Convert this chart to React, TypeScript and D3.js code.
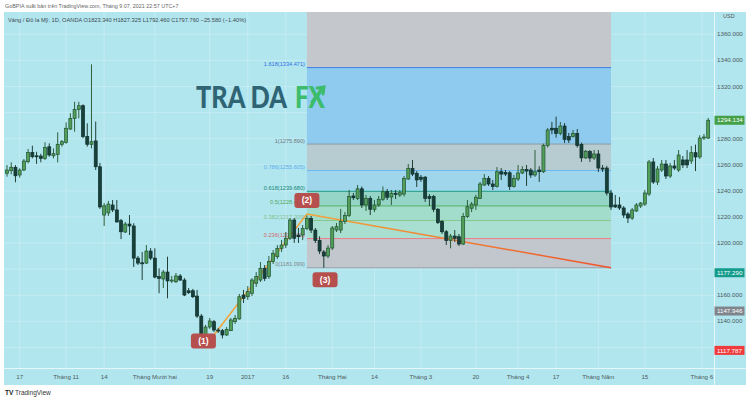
import React from "react";
import * as d3 from "d3";

// Daily XAU/USD candles (Oct 2016 – Jun 2017)
const opens = [1253.5,1255.5,1258.1,1252.2,1256.0,1262.4,1269.5,1266.9,1266.7,1264.9,1273.8,1266.9,1268.0,1275.7,1277.2,1287.4,1295.6,1302.5,1305.3,1281.6,1275.7,1278.3,1258.5,1221.5,1223.1,1229.2,1225.4,1217.2,1208.5,1214.6,1213.1,1188.5,1184.9,1184.7,1193.9,1188.5,1174.3,1172.5,1177.8,1171.0,1170.4,1174.8,1171.7,1163.5,1163.5,1159.4,1144.1,1129.6,1135.7,1139.8,1133.4,1132.9,1129.6,1132.9,1139.8,1141.9,1160.2,1158.9,1161.5,1169.2,1171.7,1180.7,1174.3,1185.8,1189.6,1196.0,1198.5,1203.7,1217.7,1206.2,1206.2,1211.3,1219.0,1210.0,1202.1,1193.2,1190.1,1196.2,1210.0,1210.0,1216.5,1221.1,1236.1,1234.3,1241.6,1229.2,1234.3,1225.9,1229.2,1233.6,1239.4,1235.3,1238.2,1236.9,1237.6,1249.1,1257.3,1253.5,1250.5,1250.5,1235.6,1235.6,1225.9,1216.5,1208.7,1202.0,1205.4,1204.9,1199.3,1220.3,1226.7,1229.2,1234.3,1244.5,1249.6,1245.3,1243.3,1254.7,1254.2,1253.9,1243.3,1249.1,1253.7,1256.3,1256.0,1252.2,1256.0,1254.7,1274.7,1288.0,1288.0,1284.1,1289.7,1281.6,1281.6,1284.1,1275.5,1265.3,1270.1,1265.2,1268.3,1257.5,1257.5,1238.4,1229.2,1229.2,1226.9,1222.3,1219.2,1224.6,1228.4,1229.9,1237.6,1262.2,1246.8,1256.0,1260.6,1251.4,1259.1,1256.0,1263.7,1263.7,1262.9,1269.3,1266.0,1280.5,1280.5];
const highs = [1259.8,1261.9,1259.8,1257.3,1264.4,1272.1,1274.6,1270.0,1268.5,1277.2,1276.4,1272.6,1284.9,1279.0,1292.5,1299.5,1308.3,1308.3,1306.3,1291.8,1337.0,1293.1,1261.4,1230.7,1232.3,1233.0,1233.0,1218.5,1216.2,1221.5,1215.2,1190.1,1193.2,1198.5,1196.2,1196.0,1180.7,1179.4,1189.6,1174.8,1177.1,1176.3,1173.2,1165.6,1164.9,1164.1,1145.7,1137.3,1142.6,1141.1,1135.0,1134.2,1135.7,1142.6,1144.9,1161.0,1164.1,1167.1,1173.2,1177.8,1185.5,1183.2,1190.1,1194.7,1198.5,1202.4,1208.5,1219.2,1219.2,1211.6,1213.9,1221.2,1220.8,1211.6,1205.2,1194.7,1198.5,1213.1,1215.4,1226.2,1223.8,1240.7,1238.4,1244.5,1243.4,1236.9,1236.1,1233.0,1236.1,1243.4,1241.5,1240.7,1240.7,1240.7,1251.4,1260.6,1263.7,1255.2,1252.2,1251.4,1237.6,1236.9,1226.9,1217.7,1210.0,1207.0,1210.0,1207.0,1223.1,1233.0,1231.5,1237.0,1246.9,1252.9,1251.4,1248.4,1258.3,1257.5,1256.0,1255.2,1252.2,1259.8,1258.9,1259.8,1257.5,1271.3,1258.9,1276.2,1288.2,1292.8,1296.9,1292.8,1292.0,1284.4,1286.7,1287.4,1277.0,1271.3,1271.3,1271.3,1271.3,1259.8,1259.1,1240.7,1236.9,1235.3,1228.4,1223.8,1226.9,1230.7,1231.5,1240.7,1263.7,1265.2,1259.1,1263.7,1263.7,1261.4,1263.7,1271.3,1266.7,1271.3,1274.4,1275.5,1282.6,1283.6,1295.9];
const lows = [1250.9,1252.7,1246.6,1250.2,1255.2,1261.1,1264.9,1260.7,1261.9,1263.7,1266.2,1264.9,1261.9,1273.9,1276.2,1286.7,1285.4,1295.6,1280.3,1273.9,1272.6,1256.0,1226.2,1213.1,1220.8,1223.8,1215.8,1203.1,1207.7,1206.2,1181.7,1183.2,1171.7,1184.0,1187.0,1173.0,1161.6,1165.6,1157.7,1169.4,1169.4,1170.9,1159.4,1161.0,1157.9,1142.6,1125.8,1128.1,1134.2,1131.9,1131.1,1127.0,1128.8,1132.6,1138.0,1141.3,1154.1,1156.4,1159.4,1166.4,1170.2,1170.9,1172.5,1184.0,1187.8,1193.2,1196.2,1202.4,1200.1,1200.1,1202.4,1210.0,1207.7,1200.1,1191.6,1181.1,1188.5,1194.7,1208.5,1207.7,1214.6,1220.0,1233.0,1233.0,1226.9,1224.6,1221.5,1223.8,1227.7,1232.3,1233.0,1229.2,1233.8,1235.3,1235.8,1248.4,1251.4,1243.0,1246.9,1231.5,1228.4,1223.8,1214.6,1207.0,1198.5,1196.0,1200.9,1197.8,1198.5,1219.2,1223.8,1225.4,1233.8,1243.8,1243.8,1240.7,1242.5,1248.4,1251.4,1240.7,1242.5,1247.6,1252.9,1243.8,1249.9,1250.7,1246.9,1253.7,1273.2,1283.4,1280.8,1282.6,1276.7,1276.7,1280.8,1273.2,1262.2,1264.5,1262.2,1263.7,1254.5,1254.5,1236.5,1225.4,1226.9,1225.4,1219.2,1215.4,1217.7,1223.8,1226.9,1228.4,1236.1,1245.3,1244.5,1254.5,1249.1,1249.9,1256.0,1254.5,1257.5,1257.5,1260.6,1255.2,1264.5,1279.0,1279.8];
const closes = [1256.0,1258.1,1251.6,1256.0,1262.9,1269.5,1266.2,1266.2,1264.9,1273.3,1267.5,1268.5,1275.7,1277.7,1288.0,1295.6,1302.5,1305.3,1281.6,1275.7,1277.7,1258.5,1227.7,1228.6,1229.9,1225.4,1216.2,1208.7,1214.6,1213.1,1188.5,1184.7,1184.5,1193.9,1188.5,1174.0,1173.0,1177.8,1171.0,1171.7,1174.8,1171.7,1160.2,1162.0,1158.9,1144.1,1129.6,1135.7,1140.3,1133.4,1132.9,1129.6,1133.9,1141.1,1142.4,1158.9,1157.7,1162.8,1171.7,1174.3,1180.7,1173.0,1185.8,1192.2,1196.0,1198.5,1203.7,1217.7,1203.7,1204.9,1211.3,1219.0,1210.0,1202.1,1193.9,1190.1,1196.2,1211.6,1212.6,1216.5,1221.1,1235.6,1234.8,1241.6,1229.2,1234.3,1225.9,1229.2,1233.6,1239.4,1235.1,1238.2,1237.4,1238.6,1249.6,1257.3,1252.9,1248.4,1248.9,1234.3,1234.3,1225.9,1215.7,1208.7,1202.0,1205.4,1203.7,1199.3,1220.3,1227.9,1229.9,1235.1,1245.3,1249.6,1245.3,1243.3,1254.7,1252.9,1252.9,1243.3,1249.6,1253.7,1256.3,1255.2,1252.2,1254.7,1254.7,1274.7,1286.7,1286.7,1284.1,1289.7,1279.5,1279.0,1284.1,1274.7,1265.3,1270.4,1265.2,1268.3,1257.5,1256.8,1238.4,1227.7,1227.7,1226.9,1221.5,1219.2,1225.4,1229.2,1230.7,1238.4,1262.2,1246.8,1256.8,1260.6,1251.4,1259.1,1257.5,1267.5,1259.9,1259.9,1269.3,1266.0,1280.5,1281.3,1294.134];

// Time axis
const timeTickBars = [3, 14, 23, 35, 48, 57, 66, 77, 87, 98, 111, 121, 130, 140, 151, 164.5];
const timeTickLabels = ["17", "Tháng 11", "14", "Tháng Mười hai", "19", "2017", "16", "Tháng Hai", "14", "Tháng 3", "20", "Tháng 4", "17", "Tháng Năm", "15", "Tháng 6"];

// Price axis
const priceTicks = [1120, 1140, 1160, 1180, 1200, 1220, 1240, 1260, 1280, 1300, 1320, 1340, 1360];
const markerValues = [1294.134, 1177.29, 1147.946, 1117.787];
const markerColors = ["#43a047", "#139c8c", "#80858c", "#ef3b3b"];

// Trend-based fib extension: anchor points (bar, price)
const anchorBars = [48.5, 71, 143];
const anchorPrices = [1127.5, 1222.3, 1181.099];
const fibRatios = [1.618, 1, 0.786, 0.618, 0.5, 0.382, 0.236, 0];
const fibPrices = [1334.471, 1275.89, 1255.605, 1239.68, 1228.494, 1217.309, 1203.47, 1181.099];
const fibLineColors = ["#3f7fe6", "#8c9aa2", "#6bb8f2", "#1f9c87", "#52b460", "#86c98f", "#ea7d84", "#9aa3a8"];
const fibLabelColors = ["#2f6fe0", "#6f7a82", "#5aaeea", "#14876f", "#4ea65a", "#7dc08a", "#d4666c", "#7f878d"];
const fibBandColors = ["#8fcbef", "#b6ccd1", "#9fd6ec", "#95d5c8", "#a2dcca", "#a8dfd0", "#c1c7cc"];
const fibTopColor = "#c4c7cb";

// Pivot markers: label, bar, price, vertical offset in px
const pivotLabels = ["(1)", "(2)", "(3)"];
const pivotBars = [46.5, 71, 75.3];
const pivotPrices = [1125.8, 1221.2, 1181.1];
const pivotOffsets = [1, -15, 12];

const W = 749;
const H = 400;
const PANEL_L = 4;
const PANEL_R = 746;
const PANEL_T = 12;
const PLOT_R = 714;
const PLOT_B = 368;
const AXIS_B = 385;
const BG = "#b2e6ef";

export default function App() {
  const x = d3.scaleLinear().domain([0, 166]).range([7, 7 + 166 * 4.224]);
  const y = d3.scaleLinear().domain([1360, 1120]).range([34.3, 347.5]);
  const bodyW = 3;

  const fibX0 = x(anchorBars[1]);
  const fibX1 = x(anchorBars[2]);

  // axis ticks hidden underneath a price marker are skipped
  const visibleTicks = priceTicks.filter((p) => markerValues.every((v) => Math.abs(y(v) - y(p)) > 8));

  const candles = opens.map((o, i) => {
    const c = closes[i];
    const up = c >= o;
    const cx = x(i);
    const top = y(Math.max(o, c));
    const bot = y(Math.min(o, c));
    return (
      <g key={i}>
        <line x1={cx} x2={cx} y1={y(highs[i])} y2={y(lows[i])} stroke={up ? "#2f5e3a" : "#213f38"} strokeWidth={1} />
        <rect
          x={cx - bodyW / 2}
          y={top}
          width={bodyW}
          height={Math.max(bot - top, 1)}
          fill={up ? "#519f58" : "#17403a"}
          stroke={up ? "#215232" : "#0f2e29"}
          strokeWidth={0.7}
        />
      </g>
    );
  });

  const line1 = [
    [x(anchorBars[0]), y(anchorPrices[0])],
    [x(anchorBars[1]), y(anchorPrices[1])],
  ];
  const line2 = [
    [x(anchorBars[1]), y(anchorPrices[1])],
    [x(anchorBars[2]), y(anchorPrices[2])],
  ];

  const font = "'Liberation Sans', Arial, sans-serif";
  const wmFont = "Lato, 'DejaVu Sans', sans-serif";

  return (
    <svg
      width={W}
      height={H}
      viewBox={`0 0 ${W} ${H}`}
      style={{ position: "absolute", left: 0, top: 0, display: "block" }}
      fontFamily={font}
    >
      <defs>
        <clipPath id="plot">
          <rect x={PANEL_L} y={PANEL_T} width={PLOT_R - PANEL_L} height={PLOT_B - PANEL_T} />
        </clipPath>
        <linearGradient id="leg2" x1={line2[0][0]} x2={line2[1][0]} y1={0} y2={0} gradientUnits="userSpaceOnUse">
          <stop offset="0" stopColor="#f2a63a" />
          <stop offset="1" stopColor="#f0522a" />
        </linearGradient>
      </defs>

      <rect x={0} y={0} width={W} height={H} fill="#ffffff" />
      <text x={5} y={8} fontSize={5.4} fill="#666">
        GoBPIA xuất bản trên TradingView.com, Tháng 9 07, 2021 22:57 UTC+7
      </text>

      {/* chart panel */}
      <rect x={PANEL_L} y={PANEL_T} width={PANEL_R - PANEL_L} height={AXIS_B - PANEL_T} fill={BG} />

      <g clipPath="url(#plot)">
        {/* grid */}
        {priceTicks.map((p) => (
          <line key={"hg" + p} x1={PANEL_L} x2={PLOT_R} y1={y(p)} y2={y(p)} stroke="#ffffff" strokeOpacity={0.22} />
        ))}
        {timeTickBars.map((b, i) => (
          <line key={"vg" + i} x1={x(b)} x2={x(b)} y1={PANEL_T} y2={PLOT_B} stroke="#ffffff" strokeOpacity={0.22} />
        ))}

        {/* fib extension bands */}
        <rect x={fibX0} y={PANEL_T} width={fibX1 - fibX0} height={y(fibPrices[0]) - PANEL_T} fill={fibTopColor} />
        {fibBandColors.map((col, i) => (
          <rect
            key={"band" + i}
            x={fibX0}
            y={y(fibPrices[i])}
            width={fibX1 - fibX0}
            height={y(fibPrices[i + 1]) - y(fibPrices[i])}
            fill={col}
          />
        ))}
        {fibPrices.map((p, i) => (
          <line key={"fl" + i} x1={fibX0} x2={fibX1} y1={y(p)} y2={y(p)} stroke={fibLineColors[i]} strokeWidth={1} />
        ))}
        {fibPrices.map((p, i) => (
          <text
            key={"ft" + i}
            x={fibX0 - 2}
            y={y(p) - 1.5}
            fontSize={5.6}
            textAnchor="end"
            fill={fibLabelColors[i]}
          >
            {`${fibRatios[i]}(${p.toFixed(3)})`}
          </text>
        ))}

        {/* watermark: drawn at a smaller size and stretched to the logo box */}
        <g transform="translate(196,108) scale(1,1.5)">
          <text x={0} y={0} fontSize={20} fontWeight={900} fontFamily={wmFont} fill="#2f6474" textLength={91} lengthAdjust="spacingAndGlyphs">
            TRA DA
          </text>
          <text x={99} y={0} fontSize={20} fontWeight={900} fontFamily={wmFont} fill="#3dbc6c" textLength={30} lengthAdjust="spacingAndGlyphs">
            FX
          </text>
        </g>
        <path d="M312,102 L323,88 M317,88 L324,87 L323,94" stroke="#3dbc6c" strokeWidth={3} fill="none" strokeLinecap="round" />

        {/* swing lines */}
        <line x1={line1[0][0]} y1={line1[0][1]} x2={line1[1][0]} y2={line1[1][1]} stroke="#f2a33a" strokeWidth={1.5} />
        <line x1={line2[0][0]} y1={line2[0][1]} x2={line2[1][0]} y2={line2[1][1]} stroke="url(#leg2)" strokeWidth={1.5} />

        {candles}

        {/* pivot tags */}
        {pivotLabels.map((lab, i) => {
          const cx = x(pivotBars[i]);
          const cy = y(pivotPrices[i]) + pivotOffsets[i];
          return (
            <g key={"pv" + i}>
              <rect x={cx - 12.5} y={cy - 7.5} width={25} height={15} rx={3} fill="#b6504e" />
              <text x={cx} y={cy + 3} fontSize={8.5} fontWeight={700} fill="#ffffff" textAnchor="middle">
                {lab}
              </text>
            </g>
          );
        })}

        {/* legend */}
        <text x={8} y={22} fontSize={5.7} fill="#3c4a4f">
          Vàng / Đô la Mỹ, 1D, OANDA  O1823.340  H1827.325  L1792.460  C1797.760  −25.580 (−1.40%)
        </text>
      </g>

      {/* price axis */}
      <line x1={PLOT_R + 0.5} x2={PLOT_R + 0.5} y1={PANEL_T} y2={AXIS_B} stroke="#e6f7fa" strokeWidth={1} />
      <text x={723} y={18} fontSize={5.5} fill="#555">USD</text>
      {visibleTicks.map((p) => (
        <text key={"pt" + p} x={717} y={y(p) + 2} fontSize={6.2} fill="#4d5b60">
          {p.toFixed(3)}
        </text>
      ))}
      {markerValues.map((v, i) => (
        <g key={"mk" + i}>
          <rect x={714.5} y={y(v) - 4.5} width={30} height={9} fill={markerColors[i]} />
          <text x={717} y={y(v) + 2.2} fontSize={6.2} fill="#ffffff">
            {v.toFixed(3)}
          </text>
        </g>
      ))}

      {/* time axis */}
      <line x1={PANEL_L} x2={PANEL_R} y1={PLOT_B + 0.5} y2={PLOT_B + 0.5} stroke="#e6f7fa" strokeWidth={1} />
      {timeTickBars.map((b, i) => (
        <text key={"tt" + i} x={x(b)} y={379} fontSize={6.2} fill="#4d5b60" textAnchor="middle">
          {timeTickLabels[i]}
        </text>
      ))}

      {/* footer */}
      <text x={5} y={395} fontSize={6.5} fontWeight={700} fill="#222">TV</text>
      <text x={15} y={395} fontSize={6.5} fill="#333">TradingView</text>
    </svg>
  );
}
